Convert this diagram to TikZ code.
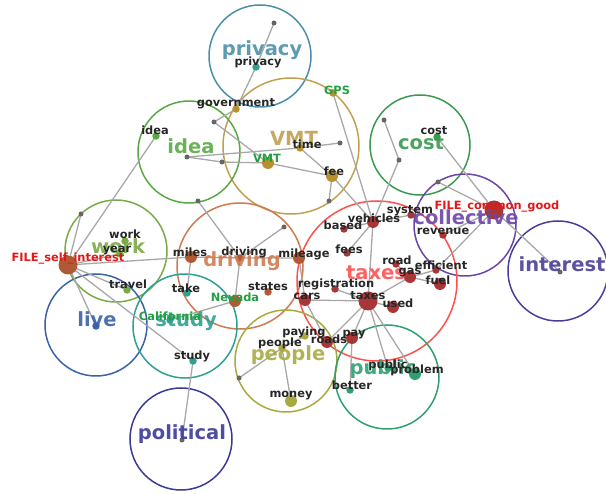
\documentclass[tikz,border=0pt]{standalone}
\usepackage{fontspec}
\setmainfont{DejaVu Sans}
\definecolor{cPriv}{HTML}{4A90A8}
\definecolor{cVMT}{HTML}{C0A050}
\definecolor{cIdea}{HTML}{5AA845}
\definecolor{cCost}{HTML}{3A9A50}
\definecolor{cColl}{HTML}{6A46A8}
\definecolor{cInt}{HTML}{4A3F98}
\definecolor{cWork}{HTML}{7AAA44}
\definecolor{cDriv}{HTML}{D07A50}
\definecolor{cTax}{HTML}{FF5050}
\definecolor{cLive}{HTML}{3A62A8}
\definecolor{cStudy}{HTML}{30A090}
\definecolor{cPeop}{HTML}{A8AA40}
\definecolor{cPub}{HTML}{30A070}
\definecolor{cPol}{HTML}{3A3A98}
\definecolor{dRed}{HTML}{A83636}
\definecolor{dGold}{HTML}{B8902E}
\definecolor{dBrown}{HTML}{B05A35}
\definecolor{dGray}{HTML}{666666}
\definecolor{eGray}{HTML}{A8A8A8}
\definecolor{tGray}{HTML}{262626}
\definecolor{tRed}{HTML}{E01818}
\definecolor{tGreen}{HTML}{20A040}
\begin{document}
\begin{tikzpicture}[x=1pt,y=-1pt,
  clus/.style={circle, draw, line width=1.5pt, minimum size=#1, inner sep=0pt},
  big/.style={font=\bfseries\fontsize{19.5}{20}\selectfont, inner sep=0pt, opacity=0.9},
  lab/.style={font=\bfseries\fontsize{11.4}{12}\selectfont, text=tGray, inner sep=0pt},
  dot/.style={circle, fill=#1, inner sep=0pt, minimum size=7.5pt},
  bdot/.style={circle, fill=#1, inner sep=0pt, minimum size=12pt},
  hdot/.style={circle, fill=#1, inner sep=0pt, minimum size=19pt},
  gdot/.style={circle, fill=dGray, inner sep=0pt, minimum size=5pt},
  edge/.style={draw=eGray, line width=1.3pt}]
\useasboundingbox (0,0) rectangle (606,494);
% cluster circles
\node[clus=102pt, draw=cPriv] (Cpriv) at (260,56) {};
\node[clus=136pt, draw=cVMT] (Cvmt) at (291,146) {};
\node[clus=102pt, draw=cIdea] (Cidea) at (189,152) {};
\node[clus=100pt, draw=cCost] (Ccost) at (420,145) {};
\node[clus=102pt, draw=cColl] (Ccoll) at (465,225) {};
\node[clus=100pt, draw=cInt] (Cint) at (558,271) {};
\node[clus=102pt, draw=cWork] (Cwork) at (116,251) {};
\node[clus=126pt, draw=cDriv] (Cdriv) at (240,266) {};
\node[clus=160pt, draw=cTax] (Ctax) at (377,281) {};
\node[clus=102pt, draw=cLive] (Clive) at (96,325) {};
\node[clus=104pt, draw=cStudy] (Cstudy) at (185,326) {};
\node[clus=102pt, draw=cPeop] (Cpeop) at (286,361) {};
\node[clus=104pt, draw=cPub] (Cpub) at (387,377) {};
\node[clus=102pt, draw=cPol] (Cpol) at (181,439) {};
% coordinates of word nodes
\coordinate (privacy) at (256,67);
\coordinate (g1) at (274,23);
\coordinate (government) at (236,109);
\coordinate (g2) at (214,122);
\coordinate (idea) at (156,136);
\coordinate (g3) at (187,157);
\coordinate (g4) at (222,162);
\coordinate (vmt) at (268,163);
\coordinate (time) at (300,148);
\coordinate (g5) at (340,143);
\coordinate (gps) at (333,93);
\coordinate (fee) at (332,176);
\coordinate (g6) at (329,201);
\coordinate (g7) at (198,201);
\coordinate (cost) at (437,137);
\coordinate (g8) at (384,120);
\coordinate (g9) at (399,160);
\coordinate (g10) at (438,182);
\coordinate (fcg) at (494,210);
\coordinate (revenue) at (443,235);
\coordinate (system) at (411,215);
\coordinate (vehicles) at (373,222);
\coordinate (based) at (344,229);
\coordinate (fees) at (347,253);
\coordinate (road) at (396,264);
\coordinate (gas) at (410,277);
\coordinate (efficient) at (436,270);
\coordinate (fuel) at (440,284);
\coordinate (registration) at (335,289);
\coordinate (cars) at (305,300);
\coordinate (taxes) at (368,301);
\coordinate (used) at (393,307);
\coordinate (interest) at (560,272);
\coordinate (mileage) at (299,258);
\coordinate (driving) at (240,258);
\coordinate (miles) at (191,257);
\coordinate (g12) at (284,227);
\coordinate (states) at (268,292);
\coordinate (nevada) at (235,301);
\coordinate (take) at (187,293);
\coordinate (travel) at (127,290);
\coordinate (fsi) at (68,265);
\coordinate (work) at (125,241);
\coordinate (year) at (120,254);
\coordinate (g13) at (81,214);
\coordinate (live) at (96,326);
\coordinate (california) at (170,320);
\coordinate (study) at (193,361);
\coordinate (political) at (182,440);
\coordinate (people) at (282,348);
\coordinate (paying) at (305,336);
\coordinate (g14) at (239,378);
\coordinate (money) at (291,401);
\coordinate (roads) at (327,342);
\coordinate (pay) at (352,338);
\coordinate (better) at (350,390);
\coordinate (public) at (388,368);
\coordinate (problem) at (415,374);
% edges
\path[edge] (g1) -- (privacy) -- (government) -- (g2) -- (vmt);
\path[edge] (g3) -- (g4) -- (vmt) -- (fee);
\path[edge] (g3) -- (time) -- (g5);
\path[edge] (time) -- (fee) -- (g6);
\path[edge] (fee) -- (vehicles);
\path[edge] (gps) -- (vehicles);
\path[edge] (g8) -- (g9) -- (vehicles);
\path[edge] (cost) -- (fcg) -- (interest);
\path[edge] (g10) -- (fcg);
\path[edge] (fcg) -- (revenue);
\path[edge] (fcg) -- (efficient);
\path[edge] (vehicles) -- (taxes);
\path[edge] (fees) -- (vehicles);
\path[edge] (based) -- (vehicles);
\path[edge] (vehicles) -- (system);
\path[edge] (taxes) -- (gas) -- (efficient);
\path[edge] (gas) -- (fuel);
\path[edge] (road) -- (gas);
\path[edge] (taxes) -- (used);
\path[edge] (taxes) -- (registration);
\path[edge] (cars) -- (taxes);
\path[edge] (taxes) -- (pay);
\path[edge] (taxes) -- (roads);
\path[edge] (taxes) -- (public);
\path[edge] (taxes) -- (problem);
\path[edge] (mileage) -- (cars) -- (roads) -- (pay) -- (better);
\path[edge] (fsi) -- (miles) -- (driving) -- (mileage);
\path[edge] (g7) -- (driving) -- (g12);
\path[edge] (driving) -- (nevada) -- (california);
\path[edge] (miles) -- (take);
\path[edge] (fsi) -- (g13);
\path[edge] (fsi) -- (idea);
\path[edge] (fsi) -- (year);
\path[edge] (fsi) -- (travel);
\path[edge] (fsi) -- (live);
\path[edge] (fsi) -- (study) -- (political);
\path[edge] (g14) -- (people) -- (money);
\path[edge] (people) -- (paying);
% dots
\foreach \n in {g1,g2,g3,g4,g5,g6,g7,g8,g9,g10,g12,g13,g14,political,interest}
  \node[gdot] (d-\n) at (\n) {};
\node[dot=cStudy] (d-privacy) at (privacy) {};
\node[dot=dGold] (d-government) at (government) {};
\node[dot=cIdea] (d-idea) at (idea) {};
\node[bdot=dGold] (d-vmt) at (vmt) {};
\node[dot=dGold] (d-time) at (time) {};
\node[dot=dGold] (d-gps) at (gps) {};
\node[bdot=dGold] (d-fee) at (fee) {};
\node[dot=cCost] (d-cost) at (cost) {};
\node[hdot=dRed] (d-fcg) at (fcg) {};
\node[dot=dRed] (d-revenue) at (revenue) {};
\node[dot=dRed] (d-system) at (system) {};
\node[bdot=dRed] (d-vehicles) at (vehicles) {};
\node[dot=dRed] (d-based) at (based) {};
\node[dot=dRed] (d-fees) at (fees) {};
\node[dot=dRed] (d-road) at (road) {};
\node[bdot=dRed] (d-gas) at (gas) {};
\node[dot=dRed] (d-efficient) at (efficient) {};
\node[bdot=dRed] (d-fuel) at (fuel) {};
\node[dot=dRed] (d-registration) at (registration) {};
\node[bdot=dRed] (d-cars) at (cars) {};
\node[hdot=dRed] (d-taxes) at (taxes) {};
\node[bdot=dRed] (d-used) at (used) {};
\node[bdot=dBrown] (d-mileage) at (mileage) {};
\node[dot=dBrown] (d-driving) at (driving) {};
\node[bdot=dBrown] (d-miles) at (miles) {};
\node[dot=dBrown] (d-states) at (states) {};
\node[bdot=dBrown] (d-nevada) at (nevada) {};
\node[dot=cStudy] (d-take) at (take) {};
\node[dot=cWork] (d-travel) at (travel) {};
\node[hdot=dBrown] (d-fsi) at (fsi) {};
\node[dot=cWork] (d-work) at (work) {};
\node[dot=cWork] (d-year) at (year) {};
\node[dot=cLive] (d-live) at (live) {};
\node[dot=cStudy] (d-california) at (california) {};
\node[dot=cStudy] (d-study) at (study) {};
\node[dot=cPeop] (d-people) at (people) {};
\node[dot=cPeop] (d-paying) at (paying) {};
\node[bdot=cPeop] (d-money) at (money) {};
\node[bdot=dRed] (d-roads) at (roads) {};
\node[bdot=dRed] (d-pay) at (pay) {};
\node[dot=cPub] (d-better) at (better) {};
\node[dot=cPub] (d-public) at (public) {};
\node[bdot=cPub] (d-problem) at (problem) {};
% big cluster labels
\node[big, text=cPriv] (L-privacy) at (262,50) {privacy};
\node[big, text=cVMT] (L-vmt) at (294,138) {VMT};
\node[big, text=cIdea] (L-idea) at (191,146) {idea};
\node[big, text=cCost] (L-cost) at (421,143) {cost};
\node[big, text=cColl] (L-coll) at (466,217) {collective};
\node[big, text=cInt] (L-int) at (562,264) {interest};
\node[big, text=cWork] (L-work) at (118,246) {work};
\node[big, text=cDriv] (L-driv) at (242,261) {driving};
\node[big, text=cTax] (L-tax) at (376,273) {taxes};
\node[big, text=cLive] (L-live) at (97,319) {live};
\node[big, text=cStudy] (L-study) at (186,321) {study};
\node[big, text=cPeop] (L-peop) at (288,355) {people};
\node[big, text=cPub] (L-pub) at (383,369) {public};
\node[big, text=cPol] (L-pol) at (182,434) {political};
% small labels
\node[lab] (l-privacy) at (258,62) {privacy};
\node[lab] (l-government) at (236,104) {government};
\node[lab] (l-idea) at (155,130) {idea};
\node[lab, text=tGreen] (l-vmt) at (267,158) {VMT};
\node[lab] (l-time) at (307,144) {time};
\node[lab, text=tGreen] (l-gps) at (337,90) {GPS};
\node[lab] (l-fee) at (334,171) {fee};
\node[lab] (l-cost) at (434,131) {cost};
\node[lab, text=tRed] (l-fcg) at (497,207) {FILE\_common\_good};
\node[lab] (l-revenue) at (443,231) {revenue};
\node[lab] (l-system) at (410,211) {system};
\node[lab] (l-vehicles) at (374,218) {vehicles};
\node[lab] (l-based) at (343,225) {based};
\node[lab] (l-fees) at (349,249) {fees};
\node[lab] (l-road) at (397,260) {road};
\node[lab] (l-gas) at (410,273) {gas};
\node[lab] (l-efficient) at (441,265) {efficient};
\node[lab] (l-fuel) at (438,280) {fuel};
\node[lab] (l-registration) at (336,284) {registration};
\node[lab] (l-cars) at (307,296) {cars};
\node[lab] (l-taxes) at (368,296) {taxes};
\node[lab] (l-used) at (398,303) {used};
\node[lab] (l-mileage) at (304,254) {mileage};
\node[lab] (l-driving) at (244,252) {driving};
\node[lab] (l-miles) at (190,252) {miles};
\node[lab] (l-states) at (268,287) {states};
\node[lab, text=tGreen] (l-nevada) at (235,297) {Nevada};
\node[lab] (l-take) at (186,288) {take};
\node[lab] (l-travel) at (128,284) {travel};
\node[lab, text=tRed] (l-fsi) at (68,259) {FILE\_self\_interest};
\node[lab] (l-work) at (125,234) {work};
\node[lab] (l-year) at (117,251) {year};
\node[lab, text=tGreen] (l-california) at (170,316) {California};
\node[lab] (l-study) at (192,356) {study};
\node[lab] (l-people) at (280,343) {people};
\node[lab] (l-paying) at (304,332) {paying};
\node[lab] (l-money) at (291,396) {money};
\node[lab] (l-roads) at (329,339) {roads};
\node[lab] (l-pay) at (354,335) {pay};
\node[lab] (l-better) at (352,385) {better};
\node[lab] (l-public) at (388,365) {public};
\node[lab] (l-problem) at (417,370) {problem};
\end{tikzpicture}
\end{document}
